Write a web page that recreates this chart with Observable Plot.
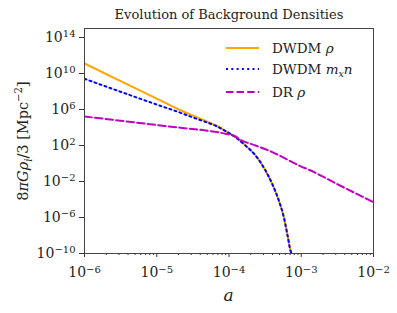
<!DOCTYPE html>
<html>
<head>
<meta charset="utf-8">
<script src="https://cdn.jsdelivr.net/npm/d3@7"></script>
<script src="https://cdn.jsdelivr.net/npm/@observablehq/plot@0.6"></script>
<style>
  html, body { margin: 0; padding: 0; background: #fff; }
  #chart svg { display: block; }
</style>
</head>
<body>
<div id="chart"></div>
<script>
// ---- data ----
const dwdmA   = [1e-6, 3.16e-6, 1e-5, 2.14e-5, 3.16e-5, 4.73e-5, 6.5e-5, 8.95e-5, 1.23e-4, 1.69e-4, 2.33e-4, 3.2e-4, 3.96e-4, 4.89e-4, 5.74e-4, 6.4e-4, 7.1e-4, 7.33e-4];
const dwdmRho = [1.29e11, 1.41e9, 1.58e7, 8.3e5, 2.1e5, 5.5e4, 1.78e4, 4.17e3, 832, 100, 7.76, 0.166, 5.5e-3, 7.8e-5, 1.07e-6, 1.55e-8, 2.1e-10, 1e-10];
const dwdmMn  = [2.57e9, 9.33e7, 3.55e6, 4.27e5, 1.32e5, 4.17e4, 1.58e4, 3.98e3, 832, 100, 7.76, 0.166, 5.5e-3, 7.8e-5, 1.07e-6, 1.55e-8, 2.1e-10, 1e-10];
const drA     = [1e-6, 3.16e-6, 1e-5, 2.14e-5, 4.73e-5, 8.95e-5, 1.23e-4, 1.37e-4, 2.33e-4, 3.55e-4, 7.08e-4, 9.33e-4, 1.35e-3, 3.16e-3, 1e-2];
const drRho   = [1.66e5, 5.62e4, 1.9e4, 9.33e3, 4.68e3, 2.0e3, 1000, 550, 100, 27.5, 1.82, 0.60, 0.166, 5.0e-3, 5.0e-5];

const yTicks = [1e-10, 1e-6, 1e-2, 1e2, 1e6, 1e10, 1e14];
const xTicks = [1e-6, 1e-5, 1e-4, 1e-3, 1e-2];
const xMinor = [];
for (const dec of [1e-6, 1e-5, 1e-4, 1e-3]) for (const m of [2,3,4,5,6,7,8,9]) xMinor.push(m * dec);

const series = [
  {name: "DWDM ρ", color: "#FFA500", dash: null},
  {name: "DWDM m_x n", color: "#0000FF", dash: "2,3.3"},
  {name: "DR ρ", color: "#BF00BF", dash: "7.4,3.2"}
];

const rowsRho = dwdmA.map((a, i) => ({a, v: dwdmRho[i]}));
const rowsMn  = dwdmA.map((a, i) => ({a, v: dwdmMn[i]}));
const rowsDR  = drA.map((a, i) => ({a, v: drRho[i]}));

const FONT = "DejaVu Serif";
const expFmt = d => "10^" + Math.round(Math.log10(d));

const plot = Plot.plot({
  width: 397, height: 313,
  marginLeft: 84, marginRight: 24, marginTop: 28, marginBottom: 60,
  style: {fontFamily: FONT, fontSize: "14px", background: "#fff", color: "#222"},
  x: {type: "log", domain: [1e-6, 1e-2]},
  y: {type: "log", domain: [1e-10, 1e15]},
  marks: [
    Plot.line(rowsRho, {x: "a", y: "v", stroke: series[0].color, strokeWidth: 2, curve: "monotone-x", clip: true}),
    Plot.line(rowsMn,  {x: "a", y: "v", stroke: series[1].color, strokeWidth: 2, strokeDasharray: series[1].dash, curve: "monotone-x", clip: true}),
    Plot.line(rowsDR,  {x: "a", y: "v", stroke: series[2].color, strokeWidth: 2, strokeDasharray: series[2].dash, curve: "monotone-x", clip: true}),
    Plot.axisX({ticks: xMinor, tickFormat: () => "", tickSize: 2, stroke: "#333", label: null}),
    Plot.axisX({ticks: xTicks, tickFormat: expFmt, tickSize: 4, tickPadding: 10, stroke: "#333", fill: "#222", label: null}),
    Plot.axisY({ticks: yTicks, tickFormat: expFmt, tickSize: 5, tickPadding: 4, stroke: "#333", fill: "#222", label: null}),
    Plot.frame({stroke: "#444", strokeWidth: 1})
  ]
});
document.getElementById("chart").appendChild(plot);

const NS = "http://www.w3.org/2000/svg";
// superscript tick labels
plot.querySelectorAll('g[aria-label$="tick label"] text').forEach(t => {
  const s = t.textContent;
  if (!s.startsWith("10^")) return;
  const e = s.slice(3).replace("-", "−");
  t.textContent = "";
  const b = document.createElementNS(NS, "tspan"); b.textContent = "10"; t.appendChild(b);
  const p = document.createElementNS(NS, "tspan"); p.textContent = e;
  p.setAttribute("dy", "-0.45em"); p.setAttribute("font-size", "10px"); t.appendChild(p);
});

// helper to build rich text
function rich(parent, parts, attrs, size) {
  const t = document.createElementNS(NS, "text");
  t.setAttribute("text-anchor", "start");
  for (const k in attrs) t.setAttribute(k, attrs[k]);
  t.setAttribute("font-family", FONT);
  t.setAttribute("font-size", size + "px");
  let off = 0;
  for (const p of parts) {
    const s = document.createElementNS(NS, "tspan");
    s.textContent = p.t;
    if (p.i) s.setAttribute("font-style", "italic");
    let target = 0, fs = size;
    if (p.sh === "sup") { target = -0.42 * size; fs = size * 0.7; }
    if (p.sh === "sub") { target = 0.25 * size; fs = size * 0.7; }
    if (target !== off) { s.setAttribute("dy", (target - off).toFixed(2)); off = target; }
    s.setAttribute("font-size", fs + "px");
    t.appendChild(s);
  }
  parent.appendChild(t);
  return t;
}

const svg = plot;
const g = document.createElementNS(NS, "g");
g.setAttribute("fill", "#222");
svg.appendChild(g);

// title
rich(g, [{t: "Evolution of Background Densities"}], {x: 229, y: 19, "text-anchor": "middle"}, 13);
// x label
rich(g, [{t: "a", i: true}], {x: 228.5, y: 301, "text-anchor": "middle"}, 17);
// y label
rich(g, [{t: "8"}, {t: "πGρ", i: true}, {t: "i", i: true, sh: "sub"}, {t: "/3 [Mpc"}, {t: "−2", sh: "sup"}, {t: "]"}],
  {transform: "translate(28,141) rotate(-90)", "text-anchor": "middle"}, 14.5);

// legend
const legendRows = [
  {parts: [{t: "DWDM "}, {t: "ρ", i: true}], s: series[0]},
  {parts: [{t: "DWDM "}, {t: "m", i: true}, {t: "x", i: true, sh: "sub"}, {t: "n", i: true}], s: series[1]},
  {parts: [{t: "DR "}, {t: "ρ", i: true}], s: series[2]}
];
const rowY = [48, 69, 92];
legendRows.forEach((r, k) => {
  const l = document.createElementNS(NS, "line");
  l.setAttribute("x1", 226); l.setAttribute("x2", 259);
  l.setAttribute("y1", rowY[k]); l.setAttribute("y2", rowY[k]);
  l.setAttribute("stroke", r.s.color); l.setAttribute("stroke-width", 2);
  if (r.s.dash) l.setAttribute("stroke-dasharray", r.s.dash);
  g.appendChild(l);
  rich(g, r.parts, {x: 272, y: rowY[k] + 5}, 13.5);
});
</script>
</body>
</html>
